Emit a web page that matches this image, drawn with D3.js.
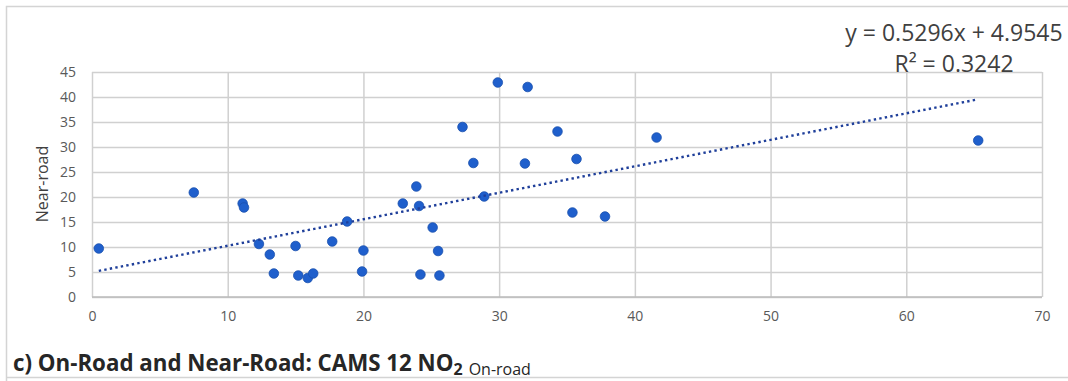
<!DOCTYPE html>
<html>
<head>
<meta charset="utf-8">
<script src="https://cdn.jsdelivr.net/npm/d3@7"></script>
<style>
  html, body { margin: 0; padding: 0; background: #fff; }
  svg { display: block; }
</style>
</head>
<body>
<svg id="chart" width="1068" height="381"></svg>
<script>
// ---- data ----
const onRoad = [0.5, 7.5, 11.1, 11.2, 12.3, 13.1, 13.4, 15.0, 15.2, 15.9, 16.3, 17.7, 18.8, 19.9, 20.0,
  22.9, 23.9, 24.1, 24.2, 25.1, 25.5, 25.6, 27.3, 28.1, 28.9, 29.9, 31.9, 32.1, 34.3, 35.4, 35.7, 37.8, 41.6, 65.3];
const nearRoad = [9.7, 20.9, 18.7, 17.9, 10.6, 8.5, 4.7, 10.2, 4.3, 3.8, 4.7, 11.1, 15.1, 5.1, 9.3,
  18.7, 22.1, 18.2, 4.5, 13.9, 9.2, 4.3, 34.0, 26.8, 20.1, 42.9, 26.7, 42.0, 33.1, 16.9, 27.6, 16.1, 31.9, 31.3];
const xTicks = [0, 10, 20, 30, 40, 50, 60, 70];
const yTicks = [0, 5, 10, 15, 20, 25, 30, 35, 40, 45];
const slope = 0.5296, intercept = 4.9545;
const equationLabel = "y = 0.5296x + 4.9545";
const r2Label = "R² = 0.3242";
const yAxisTitle = "Near-road";

const svg = d3.select("#chart");
const W = 1068, H = 381;
const m = { left: 92, right: 1042, top: 72, bottom: 297 };

const x = d3.scaleLinear().domain([0, 70]).range([m.left, m.right]);
const y = d3.scaleLinear().domain([0, 45]).range([m.bottom, m.top]);

const font = "'Open Sans', 'Noto Sans', sans-serif";

// outer frame
svg.append("path")
  .attr("d", `M6.5,${H} L6.5,6.5 L${W},6.5 M6.5,377.5 L${W},377.5`)
  .attr("fill", "none").attr("stroke", "#d4d4d4").attr("stroke-width", 1.5);

// gridlines
const gx = svg.append("g").attr("transform", `translate(0,${m.bottom})`)
  .call(d3.axisBottom(x).tickValues(xTicks).tickSize(-(m.bottom - m.top)).tickFormat(""));
gx.select(".domain").remove();
gx.selectAll("line").attr("stroke", "#d0d0d0").attr("stroke-width", 1.5);

const gy = svg.append("g").attr("transform", `translate(${m.left},0)`)
  .call(d3.axisLeft(y).tickValues(yTicks).tickSize(-(m.right - m.left)).tickFormat(""));
gy.select(".domain").remove();
gy.selectAll("line").attr("stroke", "#d0d0d0").attr("stroke-width", 1.5);

// bottom axis line
svg.append("line")
  .attr("x1", x(0)).attr("x2", x(70)).attr("y1", y(0)).attr("y2", y(0))
  .attr("stroke", "#bcbcbc").attr("stroke-width", 1.5);

// tick labels
const xl = svg.append("g").attr("transform", `translate(0,${m.bottom + 14})`)
  .call(d3.axisBottom(x).tickValues(xTicks).tickSize(0).tickPadding(0).tickFormat(d3.format("d")));
xl.select(".domain").remove();
xl.selectAll("text").attr("font-family", font).attr("font-size", 14).attr("fill", "#595959").attr("dy", "0.71em");

const yl = svg.append("g").attr("transform", `translate(${m.left - 16},0)`)
  .call(d3.axisLeft(y).tickValues(yTicks).tickSize(0).tickPadding(0).tickFormat(d3.format("d")));
yl.select(".domain").remove();
yl.selectAll("text").attr("font-family", font).attr("font-size", 14).attr("fill", "#595959");

// y axis title
svg.append("text")
  .attr("transform", `translate(48,184) rotate(-90)`)
  .attr("text-anchor", "middle")
  .attr("font-family", font).attr("font-size", 16).attr("fill", "#404040")
  .text(yAxisTitle);

// points
const pts = onRoad.map((v, i) => ({ x: v, y: nearRoad[i] }));
svg.append("g").selectAll("circle").data(pts).join("circle")
  .attr("cx", d => x(d.x)).attr("cy", d => y(d.y)).attr("r", 4.8)
  .attr("fill", "#1f5fcc").attr("stroke", "#1b50ad").attr("stroke-width", 0.8);

// trend line
const xmin = d3.min(onRoad), xmax = d3.max(onRoad);
svg.append("line")
  .attr("x1", x(xmin)).attr("y1", y(slope * xmin + intercept))
  .attr("x2", x(xmax)).attr("y2", y(slope * xmax + intercept))
  .attr("stroke", "#1f3f9a").attr("stroke-width", 2.4)
  .attr("stroke-dasharray", "2.4,3.2");

// equation
svg.append("text").attr("x", 954).attr("y", 41).attr("text-anchor", "middle")
  .attr("font-family", font).attr("font-size", 23).attr("fill", "#404040").text(equationLabel);
svg.append("text").attr("x", 954).attr("y", 72).attr("text-anchor", "middle")
  .attr("font-family", font).attr("font-size", 23).attr("fill", "#404040").text(r2Label);

// title
const t = svg.append("text").attr("x", 13).attr("y", 371)
  .attr("font-family", font).attr("fill", "#262626");
t.append("tspan").attr("font-weight", "bold").attr("font-size", 22.3).text("c) On-Road and Near-Road: CAMS 12 NO");
t.append("tspan").attr("font-weight", "bold").attr("font-size", 16).attr("dy", 4).text("2");
t.append("tspan").attr("font-size", 16).attr("dx", 6).text("On-road");
</script>
</body>
</html>
